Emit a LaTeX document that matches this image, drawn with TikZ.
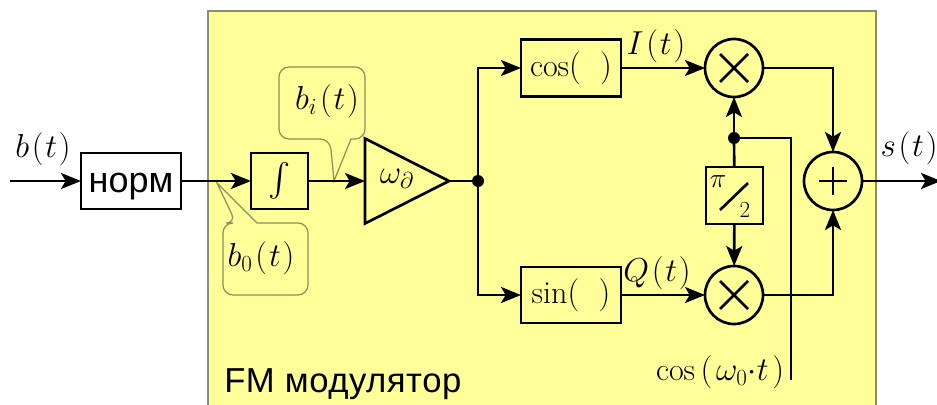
\documentclass[tikz,border=0pt]{standalone}
\usepackage{amsmath}
\usepackage{fontspec}
\newfontfamily\labelfont{Liberation Sans}
\newfontfamily\modfont[LetterSpace=1.5]{Liberation Sans}
\usetikzlibrary{arrows.meta, shapes.geometric}
\definecolor{modfill}{HTML}{FFFF99}
\definecolor{modedge}{HTML}{8C8C70}
\definecolor{balloonedge}{HTML}{8E8E58}
\def\px{0.75pt}
\tikzset{
    sig/.style={line width=2pt, -{Stealth[length=15pt, width=12pt, inset=3.5pt]}},
    wire/.style={line width=2pt},
    blockbox/.style={draw, line width=2pt, outer sep=0pt, inner sep=0pt},
    mixer/.style={circle, draw, line width=2pt, outer sep=0pt, inner sep=0pt, minimum size=58*\px},
    joint/.style={circle, fill=black, outer sep=0pt, inner sep=0pt, minimum size=12*\px},
    balloon/.style={draw=balloonedge, line width=0.9pt, fill=modfill},
    mathlab/.style={font=\fontsize{24}{28}\selectfont, inner sep=0pt},
}
\newcommand{\lp}{\mkern1.5mu(\mkern1mu}
\newcommand{\rp}{\mkern1mu)}
\begin{document}
\begin{tikzpicture}[x=\px, y=-\px]
    \useasboundingbox (0,0) rectangle (937,404);

    % Modulator background
    \draw[draw=modedge, line width=1pt, fill=modfill] (208,11) rectangle (876,420);
    \node[font=\modfont\fontsize{26}{30}\selectfont, anchor=base west, inner sep=0pt] (modname) at (224,392) {FM модулятор};

    % Balloons
    \draw[balloon] (334,181) -- (351,139) [rounded corners=10*\px] -- (365,139) -- (365,67) -- (279,67) -- (279,139) -- (330,139)
        [sharp corners] -- cycle;
    \draw[balloon] (217,183) -- (257,223) [rounded corners=10*\px] -- (308,223) -- (308,295) -- (223,295) -- (223,223) -- (236,223)
        [sharp corners] -- cycle;
    \node[mathlab] (bilab) at (327,101) {$b_i\lp t\rp$};
    \node[mathlab] (bzlab) at (261,258) {$b_0\lp t\rp$};

    % Blocks
    \node[blockbox, minimum width=100*\px, minimum height=56*\px, font=\labelfont\fontsize{27}{30}\selectfont,
        text height=18pt, text depth=1.5pt] (norm) at (131,181) {норм};
    \node[blockbox, minimum width=57*\px, minimum height=56*\px, mathlab] (integ) at (279.5,181) {$\int$};
    \node[isosceles triangle, isosceles triangle stretches, draw, line width=2pt, outer sep=0pt, inner sep=0pt,
        minimum width=85*\px, minimum height=84*\px, anchor=lower side] (amp) at (365,181) {};
    \node[mathlab] (amplab) at (397,179) {$\omega_\partial$};
    \node[blockbox, minimum width=100*\px, minimum height=57*\px, mathlab] (cosb) at (571,68) {$\cos(\ \ )$};
    \node[blockbox, minimum width=100*\px, minimum height=56*\px, mathlab] (sinb) at (571,295) {$\sin(\ \ )$};
    \node[blockbox, minimum width=57*\px, minimum height=57*\px] (shift) at (734.5,195.5) {};
    \node[mathlab, font=\fontsize{20}{24}\selectfont] (pilab) at (718,182) {$\pi$};
    \node[mathlab, font=\fontsize{18}{20}\selectfont] (twolab) at (745,210) {$2$};
    \coordinate (sla) at (720,210);
    \coordinate (slb) at (748,183);
    \draw[wire] (sla) -- (slb);

    % Mixers and the adder
    \node[mixer] (mulI) at (734,68) {};
    \node[mixer] (mulQ) at (734,295) {};
    \node[mixer] (sum) at (833,181) {};
    \foreach \m in {mulI, mulQ}
        \draw[wire] (\m) +(-14,-14) -- +(14,14)
                    (\m) +(-14,14) -- +(14,-14);
    \draw[wire] (sum) +(-14,0) -- +(14,0)
                (sum) +(0,-14) -- +(0,14);

    % Points
    \node[joint] (split) at (478,181) {};
    \node[joint] (tap) at (734,138) {};
    \coordinate (inp) at (10,181);
    \coordinate (outp) at (941,181);
    \coordinate (cosend) at (791,380);

    % Connectors
    \draw[sig] (inp) -- (norm);
    \draw[sig] (norm) -- (integ);
    \draw[sig] (integ) -- (amp.lower side);
    \draw[wire] (amp.apex) -- (split);
    \draw[sig] (split) |- (cosb);
    \draw[sig] (split) |- (sinb);
    \draw[sig] (cosb) -- (mulI);
    \draw[sig] (sinb) -- (mulQ);
    \draw[sig] (mulI) -| (sum);
    \draw[sig] (mulQ) -| (sum);
    \draw[sig] (tap) -- (mulI);
    \draw[wire] (shift) -- (tap);
    \draw[sig] (shift) -- (mulQ);
    \draw[wire] (tap) -| (cosend);
    \draw[sig] (sum) -- (outp);

    % Signal labels
    \node[mathlab] (blab) at (43,149) {$b\lp t\rp$};
    \node[mathlab] (ilab) at (656,46) {$I\lp t\rp$};
    \node[mathlab] (qlab) at (657,273) {$Q\lp t\rp$};
    \node[mathlab] (slab) at (909,148) {$s\lp t\rp$};
    \node[mathlab] (coslab) at (720,372) {$\cos\mkern3mu(\mkern2mu\omega_0{\cdot}t\mkern2mu)$};
\end{tikzpicture}
\end{document}
